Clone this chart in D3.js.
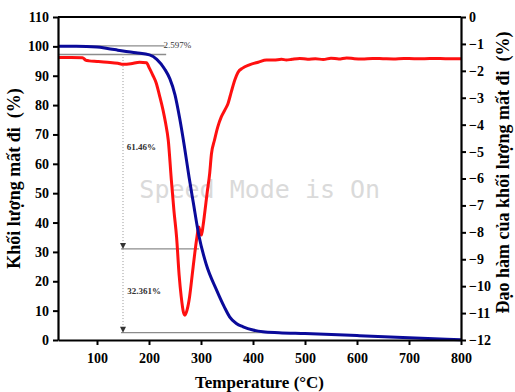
<!DOCTYPE html>
<html>
<head>
<meta charset="utf-8">
<script src="https://cdn.jsdelivr.net/npm/d3@7"></script>
<style>
  body { margin: 0; background: #fff; }
  svg text { font-family: "Liberation Serif", "Times New Roman", serif; font-weight: bold; }
</style>
</head>
<body>
<svg id="chart" width="515" height="392"></svg>
<script>
/* data: TGA (trai) en DTG (phai) */
var xTicks = [100, 200, 300, 400, 500, 600, 700, 800];
var leftTicks = [0, 10, 20, 30, 40, 50, 60, 70, 80, 90, 100, 110];
var rightTicks = [0, -1, -2, -3, -4, -5, -6, -7, -8, -9, -10, -11, -12];

var tgaTemp = [25, 60, 100, 120, 140, 150, 175, 201, 215, 230, 240, 250, 259, 268, 277, 285, 296, 310, 330, 345, 355, 368, 381, 400, 419, 450, 500, 600, 700, 800];
var tgaMass = [100, 100, 99.8, 99.3, 98.7, 98.4, 97.8, 97.1, 95.6, 92.3, 89, 83.5, 75.5, 66, 55.5, 47, 35.5, 25.8, 17, 11.2, 7.9, 5.6, 4.5, 3.4, 2.8, 2.5, 2.2, 1.5, 0.8, 0.05];

var dtgTemp = [25, 50, 72, 78, 85, 100, 120, 140, 150, 165, 182, 195, 201, 207, 214, 220, 227, 232, 237, 243, 248, 253, 258, 262, 266, 269, 273, 278, 283, 288, 292, 295.6, 298, 300.8, 304, 307, 312, 316.7, 320, 326, 332, 339, 346, 352, 358, 365, 371, 380, 393, 410, 426, 440, 455, 464, 475, 490, 505, 520, 535, 550, 565, 580, 595, 610, 630, 650, 670, 690, 710, 730, 750, 770, 800];
var dtgVal = [-1.50, -1.50, -1.51, -1.60, -1.63, -1.65, -1.68, -1.72, -1.76, -1.74, -1.68, -1.70, -1.91, -2.15, -2.46, -2.9, -3.46, -3.95, -4.57, -6.06, -7.2, -8.17, -9.6, -10.4, -10.95, -11.08, -10.9, -10.4, -9.6, -8.78, -8.2, -7.80, -7.95, -8.1, -7.75, -7.3, -6.5, -5.81, -5.1, -4.57, -4.1, -3.71, -3.45, -3.21, -2.8, -2.34, -2.06, -1.9, -1.78, -1.68, -1.6, -1.6, -1.57, -1.6, -1.57, -1.54, -1.57, -1.55, -1.58, -1.53, -1.56, -1.52, -1.55, -1.56, -1.54, -1.55, -1.56, -1.54, -1.55, -1.55, -1.54, -1.55, -1.55];

/* annotaties */
var massLevels = [100, 97.4, 31, 2.5];
var annoTemp = 150;
var annoLabels = ["2.597%", "61.46%", "32.361%"];

var svg = d3.select("#chart"),
    margin = {top: 17, right: 54, bottom: 52, left: 58},
    width = +svg.attr("width") - margin.left - margin.right,
    height = +svg.attr("height") - margin.top - margin.bottom;

var x = d3.scaleLinear().domain([25, 800]).range([0, width]),
    yL = d3.scaleLinear().domain([0, 110]).range([height, 0]),
    yR = d3.scaleLinear().domain([-12, 0]).range([height, 0]);

var g = svg.append("g")
    .attr("transform", "translate(" + margin.left + "," + margin.top + ")");

/* watermark */
g.append("text")
    .attr("x", x(413))
    .attr("y", yL(48.5))
    .attr("text-anchor", "middle")
    .style("font-family", "'DejaVu Sans Mono', monospace")
    .style("font-weight", "normal")
    .style("font-size", "25px")
    .style("fill", "#dadada")
    .text("Speed Mode is On");

/* hulplijnen */
var gray = "#8c8c8c";
g.append("line")
    .attr("x1", 0).attr("x2", x(230))
    .attr("y1", yL(massLevels[0]) - 0.5).attr("y2", yL(massLevels[0]) - 0.5)
    .attr("stroke", gray).attr("stroke-width", 1.3);
g.append("line")
    .attr("x1", 0).attr("x2", x(233))
    .attr("y1", yL(massLevels[1]) + 0.5).attr("y2", yL(massLevels[1]) + 0.5)
    .attr("stroke", gray).attr("stroke-width", 1.3);
g.append("line")
    .attr("x1", x(annoTemp) - 2).attr("x2", x(296))
    .attr("y1", yL(massLevels[2])).attr("y2", yL(massLevels[2]))
    .attr("stroke", gray).attr("stroke-width", 1.3);
g.append("line")
    .attr("x1", x(annoTemp) - 2).attr("x2", x(500))
    .attr("y1", yL(massLevels[3])).attr("y2", yL(massLevels[3]))
    .attr("stroke", gray).attr("stroke-width", 1.3);

/* verticale stippellijn met pijlen */
g.append("line")
    .attr("x1", x(annoTemp)).attr("x2", x(annoTemp))
    .attr("y1", yL(98.4)).attr("y2", yL(massLevels[3]))
    .attr("stroke", "#999").attr("stroke-width", 1)
    .attr("stroke-dasharray", "1,2");

[massLevels[2], massLevels[3]].forEach(function(v) {
  var px = x(annoTemp), py = yL(v);
  g.append("path")
      .attr("d", "M" + (px - 3) + "," + (py - 6) + "L" + (px + 3) + "," + (py - 6) + "L" + px + "," + py + "Z")
      .attr("fill", "#333");
});

g.append("text").attr("x", x(228)).attr("y", yL(99.6))
    .style("font-size", "9px").style("font-weight", "normal").style("fill", "#333")
    .text(annoLabels[0]);
g.append("text").attr("x", x(157)).attr("y", yL(64.6))
    .style("font-size", "9px").style("fill", "#333")
    .text(annoLabels[1]);
g.append("text").attr("x", x(158)).attr("y", yL(15.7))
    .style("font-size", "9px").style("fill", "#333")
    .text(annoLabels[2]);

/* curves */
var tga = tgaTemp.map(function(t, i) { return [t, tgaMass[i]]; });
var dtg = dtgTemp.map(function(t, i) { return [t, dtgVal[i]]; });

g.append("path")
    .datum(dtg)
    .attr("fill", "none")
    .attr("stroke", "#ff1010")
    .attr("stroke-width", 3)
    .attr("stroke-linejoin", "round")
    .attr("d", d3.line().curve(d3.curveMonotoneX)
      .x(function(d) { return x(d[0]); })
      .y(function(d) { return yR(d[1]); }));

g.append("path")
    .datum(tga)
    .attr("fill", "none")
    .attr("stroke", "#0a0a9a")
    .attr("stroke-width", 3)
    .attr("stroke-linejoin", "round")
    .attr("d", d3.line().curve(d3.curveMonotoneX)
      .x(function(d) { return x(d[0]); })
      .y(function(d) { return yL(d[1]); }));

/* assen */
function styleAxis(sel) {
  sel.select(".domain").attr("stroke", "#000").attr("stroke-width", 2.2);
  sel.selectAll(".tick line").attr("stroke", "#000").attr("stroke-width", 2);
  sel.selectAll(".tick text").style("font-size", "14px").attr("fill", "#000");
}

g.append("g")
    .attr("transform", "translate(0," + height + ")")
    .call(d3.axisBottom(x).tickValues(xTicks).tickSize(5).tickSizeOuter(0).tickPadding(8))
    .call(styleAxis);

g.append("g")
    .call(d3.axisLeft(yL).tickValues(leftTicks).tickSize(5).tickSizeOuter(0).tickPadding(4))
    .call(styleAxis);

g.append("g")
    .attr("transform", "translate(" + width + ",0)")
    .call(d3.axisRight(yR).tickValues(rightTicks).tickSize(5).tickSizeOuter(0).tickPadding(3)
      .tickFormat(function(d) { return d === 0 ? "0" : "\u2212" + Math.abs(d); }))
    .call(styleAxis);

g.append("line")
    .attr("x1", 0).attr("x2", width)
    .attr("y1", 0).attr("y2", 0)
    .attr("stroke", "#000").attr("stroke-width", 2.2);

/* as titels */
svg.append("text")
    .attr("x", margin.left + width / 2)
    .attr("y", 388)
    .attr("text-anchor", "middle")
    .style("font-size", "17px")
    .text("Temperature (\u00B0C)");

svg.append("text")
    .attr("transform", "translate(20," + (margin.top + height / 2) + ") rotate(-90)")
    .attr("text-anchor", "middle")
    .style("font-size", "18px")
    .style("white-space", "pre")
    .text("Khối lượng mất đi  (%)");

svg.append("text")
    .attr("transform", "translate(509," + (margin.top + height / 2 - 6) + ") rotate(-90)")
    .attr("text-anchor", "middle")
    .style("font-size", "18px")
    .style("white-space", "pre")
    .text("Đạo hàm của khối lượng mất đi  (%)");
</script>
</body>
</html>
